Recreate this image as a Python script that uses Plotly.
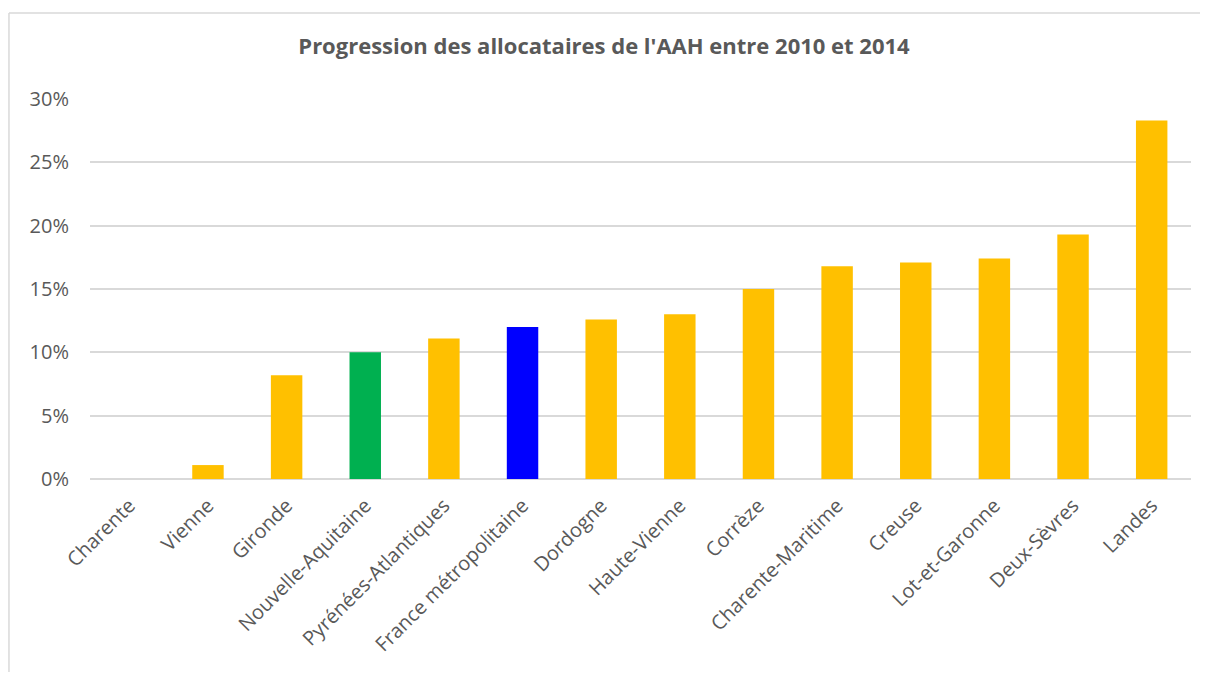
import plotly.graph_objects as go

# données
departements = ["Charente", "Vienne", "Gironde", "Nouvelle-Aquitaine", "Pyrénées-Atlantiques",
                "France métropolitaine", "Dordogne", "Haute-Vienne", "Corrèze", "Charente-Maritime",
                "Creuse", "Lot-et-Garonne", "Deux-Sèvres", "Landes"]
progression = [0.0, 0.011, 0.082, 0.100, 0.111, 0.120, 0.126, 0.130, 0.150, 0.168,
               0.171, 0.174, 0.193, 0.283]
couleurs = ["#FFC000", "#FFC000", "#FFC000", "#00B050", "#FFC000", "#0000FF", "#FFC000",
            "#FFC000", "#FFC000", "#FFC000", "#FFC000", "#FFC000", "#FFC000", "#FFC000"]
ticks_y = [0, 0.05, 0.10, 0.15, 0.20, 0.25, 0.30]

fig = go.Figure(go.Bar(x=departements, y=progression, marker=dict(color=couleurs, line=dict(width=0))))

# la page ajoute une marge de 8px autour de la figure -> on reste sous 1208x680
fig.update_layout(
    width=1192, height=664,
    margin=dict(l=82, r=9, t=91, b=193),
    paper_bgcolor="white", plot_bgcolor="white",
    bargap=0.6,
    showlegend=False,
    font=dict(family="Open Sans", color="#595959", size=20),
    title=dict(text="<b>Progression des allocataires de l'AAH entre 2010 et 2014</b>",
               x=0.5, xanchor="center", y=0.942, yanchor="middle",
               font=dict(family="Open Sans", size=22, color="#595959")),
)
fig.update_xaxes(tickangle=-45, showgrid=False, showline=False, ticks="",
                 ticklabelstandoff=10, tickfont=dict(family="Open Sans", size=20))
fig.update_yaxes(range=[0, 0.30], tickvals=ticks_y, tickformat=".0%",
                 showgrid=True, gridcolor="#D9D9D9", gridwidth=1.5,
                 zeroline=True, zerolinecolor="#D9D9D9", zerolinewidth=1.5,
                 showline=False, ticks="", ticklabelstandoff=20,
                 tickfont=dict(family="Open Sans", size=20))

# cadre du graphique (bords gauche et haut visibles)
fig.add_shape(type="line", xref="paper", yref="paper",
              x0=-0.0736, x1=-0.0736, y0=-0.6, y1=1.226,
              line=dict(color="#D9D9D9", width=1.5), layer="below")
fig.add_shape(type="line", xref="paper", yref="paper",
              x0=-0.0736, x1=1.1, y0=1.226, y1=1.226,
              line=dict(color="#D9D9D9", width=1.5), layer="below")

fig.write_html("out.html")
